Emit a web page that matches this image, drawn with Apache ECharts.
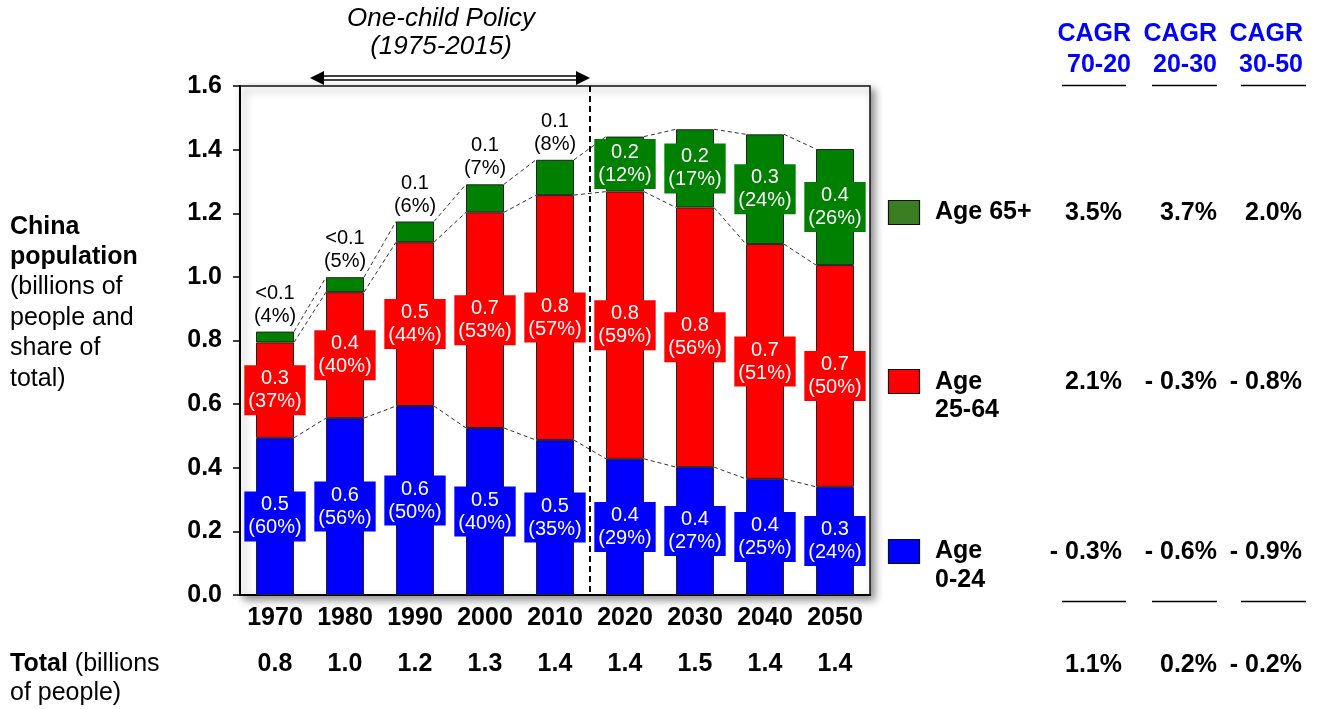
<!DOCTYPE html>
<html>
<head>
<meta charset="utf-8">
<script src="https://cdn.jsdelivr.net/npm/echarts@6/dist/echarts.min.js"></script>
<style>
html,body{margin:0;padding:0;background:#fff;}
#chart{width:1317px;height:709px;}
</style>
</head>
<body>
<div id="chart"></div>
<script>
// ---- data ----
const categories = ['1970','1980','1990','2000','2010','2020','2030','2040','2050'];
const age0_24  = [0.494, 0.556, 0.594, 0.525, 0.487, 0.428, 0.402, 0.365, 0.340];
const age25_64 = [0.300, 0.396, 0.515, 0.678, 0.770, 0.840, 0.816, 0.738, 0.697];
const age65    = [0.034, 0.047, 0.065, 0.088, 0.111, 0.173, 0.246, 0.345, 0.365];
const share0_24  = [60, 56, 50, 40, 35, 29, 27, 25, 24];
const share25_64 = [37, 40, 44, 53, 57, 59, 56, 51, 50];
const share65    = [4, 5, 6, 7, 8, 12, 17, 24, 26];
const yTicks = [0, 0.2, 0.4, 0.6, 0.8, 1.0, 1.2, 1.4, 1.6];
const cagrHeaders = ['70-20', '20-30', '30-50'];
const cagr65     = ['3.5%', '3.7%', '2.0%'];
const cagr25_64  = ['2.1%', '- 0.3%', '- 0.8%'];
const cagr0_24   = ['- 0.3%', '- 0.6%', '- 0.9%'];
const cagrTotal  = ['1.1%', '0.2%', '- 0.2%'];

// ---- derived ----
const totals = categories.map((c, i) => (Math.round((age0_24[i] + age25_64[i] + age65[i]) * 10) / 10).toFixed(1));
const top0 = age0_24.slice();
const top1 = age0_24.map((v, i) => v + age25_64[i]);
const top2 = top1.map((v, i) => v + age65[i]);

const FONT = 'Liberation Sans, Arial, Helvetica, sans-serif';
const BLUE = '#0000ff', RED = '#ff0000', GREEN = '#008000';
const BAR_W = 38;

function fmtVal(v) { return v < 0.05 ? '<0.1' : v.toFixed(1); }

function mkData(vals, outsideBelow) {
  return vals.map((v) => {
    const item = { value: v };
    if (outsideBelow && v < outsideBelow) {
      item.label = { position: 'top', distance: 4, color: '#000', backgroundColor: 'transparent', padding: 0 };
    }
    return item;
  });
}

function barSeries(name, vals, shares, color, outsideBelow) {
  return {
    name: name, type: 'bar', stack: 'pop', barWidth: BAR_W,
    itemStyle: { color: color, borderColor: '#222', borderWidth: 1 },
    label: {
      show: true, position: 'inside', color: '#fff', fontFamily: FONT, fontSize: 20,
      lineHeight: 23, backgroundColor: color, padding: [2, 4],
      formatter: (p) => fmtVal(p.value) + '\n(' + shares[p.dataIndex] + '%)'
    },
    data: mkData(vals, outsideBelow),
    z: 3
  };
}

const chart = echarts.init(document.getElementById('chart'), null, { renderer: 'canvas' });

const connectorSeries = {
  type: 'custom', z: 2, silent: true,
  data: categories.slice(0, categories.length - 1).map((c, i) => i),
  renderItem: function (params, api) {
    const i = api.value(0);
    const children = [];
    [top0, top1, top2].forEach(arr => {
      const a = api.coord([i, arr[i]]);
      const b = api.coord([i + 1, arr[i + 1]]);
      children.push({
        type: 'line',
        shape: { x1: a[0] + BAR_W / 2, y1: a[1], x2: b[0] - BAR_W / 2, y2: b[1] },
        style: { stroke: '#333', lineWidth: 1, lineDash: [4, 3] }
      });
    });
    return { type: 'group', children: children };
  }
};

const policySeries = {
  type: 'custom', z: 5, silent: true, clip: false,
  data: [0],
  renderItem: function (params, api) {
    const a = api.coord([0, 1.6]);
    const b = api.coord([1, 1.6]);
    const c = api.coord([4, 1.6]);
    const d = api.coord([5, 1.6]);
    const z0 = api.coord([4, 0]);
    const xs = (a[0] + b[0]) / 2;
    const xe = (c[0] + d[0]) / 2;
    const ytop = a[1];
    const ya = ytop - 8;
    const ah = 14, hw = 7;
    const tx = (xs + xe) / 2 - 9;
    return {
      type: 'group',
      children: [
        { type: 'line', shape: { x1: xe, y1: ytop, x2: xe, y2: z0[1] },
          style: { stroke: '#000', lineWidth: 2, lineDash: [6, 4] } },
        { type: 'line', shape: { x1: xs + ah - 2, y1: ya - 2, x2: xe - ah + 2, y2: ya - 2 },
          style: { stroke: '#000', lineWidth: 1.5 } },
        { type: 'line', shape: { x1: xs + ah - 2, y1: ya + 2, x2: xe - ah + 2, y2: ya + 2 },
          style: { stroke: '#000', lineWidth: 1.5 } },
        { type: 'polygon', shape: { points: [[xs, ya], [xs + ah, ya - hw], [xs + ah, ya + hw]] },
          style: { fill: '#000' } },
        { type: 'polygon', shape: { points: [[xe, ya], [xe - ah, ya - hw], [xe - ah, ya + hw]] },
          style: { fill: '#000' } },
        { type: 'text', x: tx, y: 19,
          style: { text: 'One-child Policy', font: 'italic 26px ' + FONT, fill: '#000', align: 'center', verticalAlign: 'middle' } },
        { type: 'text', x: tx, y: 47,
          style: { text: '(1975-2015)', font: 'italic 26px ' + FONT, fill: '#000', align: 'center', verticalAlign: 'middle' } }
      ]
    };
  }
};

// ---- graphic texts ----
const g = [];
function txt(x, y, text, opts) {
  opts = opts || {};
  g.push({
    type: 'text', x: x, y: y, z: 10,
    style: Object.assign({
      text: text, fill: '#000', fontFamily: FONT, fontSize: 25,
      fontWeight: opts.bold ? 'bold' : 'normal',
      align: opts.align || 'left', verticalAlign: 'middle'
    }, opts.style || {})
  });
}
// left block
txt(10, 227, 'China', { bold: true });
txt(10, 257, 'population', { bold: true });
txt(10, 287, '(billions of');
txt(10, 318, 'people and');
txt(10, 348, 'share of');
txt(10, 379, 'total)');
g.push({ type: 'text', x: 10, y: 664, z: 10,
  style: { text: '{b|Total} (billions', fontFamily: FONT, fontSize: 25, fill: '#000', verticalAlign: 'middle',
    rich: { b: { fontWeight: 'bold', fontFamily: FONT, fontSize: 25 } } } });
txt(10, 693, 'of people)');

// CAGR header
const colRight = [1131, 1217, 1303];
const cagrBlue = '#0000ff';
colRight.forEach((x, k) => {
  txt(x, 34, 'CAGR', { bold: true, align: 'right', style: { fill: cagrBlue } });
  txt(x, 65, cagrHeaders[k], { bold: true, align: 'right', style: { fill: cagrBlue } });
});
const ulines = [[1062, 1126], [1152, 1217], [1241, 1306]];
ulines.forEach(u => {
  g.push({ type: 'line', shape: { x1: u[0], y1: 85.5, x2: u[1], y2: 85.5 }, style: { stroke: '#000', lineWidth: 1.5 }, z: 10 });
  g.push({ type: 'line', shape: { x1: u[0], y1: 601.5, x2: u[1], y2: 601.5 }, style: { stroke: '#000', lineWidth: 1.5 }, z: 10 });
});
const valRight = [1122, 1217, 1302];
[[cagr65, 213], [cagr25_64, 382], [cagr0_24, 552], [cagrTotal, 665]].forEach(row => {
  row[0].forEach((t, k) => txt(valRight[k], row[1], t, { bold: true, align: 'right' }));
});

// legend
[['#3a7d22', 200, ['Age 65+'], [212]], [RED, 369, ['Age', '25-64'], [382, 410]], [BLUE, 539, ['Age', '0-24'], [551, 580]]]
  .forEach(L => {
    g.push({ type: 'rect', shape: { x: 888.5, y: L[1] + 0.5, width: 31, height: 24 },
      style: { fill: L[0], stroke: '#111', lineWidth: 1.2 }, z: 10 });
    L[2].forEach((t, k) => txt(935, L[3][k], t, { bold: true }));
  });

const option = {
  animation: false,
  backgroundColor: '#fff',
  textStyle: { fontFamily: FONT },
  grid: {
    left: 240, right: 447, top: 86, bottom: 114,
    show: true, backgroundColor: '#fff', borderColor: '#111', borderWidth: 1.5,
    shadowBlur: 8, shadowColor: 'rgba(0,0,0,0.45)', shadowOffsetX: 4, shadowOffsetY: 4
  },
  xAxis: [
    {
      type: 'category', data: categories, position: 'bottom',
      axisLine: { lineStyle: { color: '#000', width: 2 } },
      axisTick: { show: false },
      axisLabel: { interval: 0, color: '#000', fontFamily: FONT, fontWeight: 'bold', fontSize: 25, margin: 11 }
    },
    {
      type: 'category', data: totals, position: 'bottom', offset: 46,
      axisLine: { show: false }, axisTick: { show: false },
      axisLabel: { interval: 0, color: '#000', fontFamily: FONT, fontWeight: 'bold', fontSize: 25, margin: 11 }
    }
  ],
  yAxis: {
    type: 'value', min: yTicks[0], max: yTicks[yTicks.length - 1], interval: 0.2,
    axisLine: { show: true, lineStyle: { color: '#000', width: 2 } },
    axisTick: { show: true, length: 7, lineStyle: { color: '#000', width: 1.5 } },
    splitLine: { show: false },
    axisLabel: { color: '#000', fontFamily: FONT, fontWeight: 'bold', fontSize: 25, margin: 18,
      formatter: v => v.toFixed(1) }
  },
  series: [
    barSeries('Age 0-24', age0_24, share0_24, BLUE),
    barSeries('Age 25-64', age25_64, share25_64, RED),
    barSeries('Age 65+', age65, share65, GREEN, 0.15),
    connectorSeries,
    policySeries
  ],
  graphic: g
};
chart.setOption(option);
</script>
</body>
</html>
